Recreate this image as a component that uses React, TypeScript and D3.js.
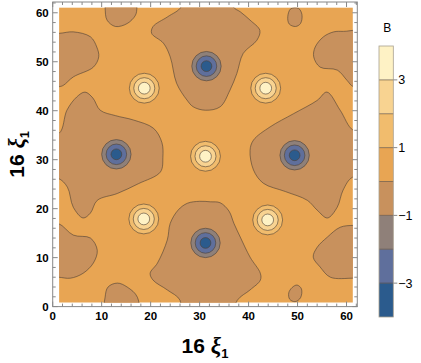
import React from "react";
import * as d3 from "d3";

const W = 421;
const H = 363;

// contour levels and the colour of each band between two levels
const levels = [-4, -3, -2, -1, 0, 1, 2, 3, 4];
const bandColors = ["#2b5b8d", "#5f6f9c", "#8f8079", "#c8915d", "#e8a553", "#f1bc6d", "#f8d391", "#fef2c5"];
const legendTicks = [3, 1, -1, -3];
const frameTicks = [0, 10, 20, 30, 40, 50, 60];

// peaks (B > 3) and wells (B < -3), in units of 16 xi_1
const maxima = [[18.7, 44.6], [43.5, 44.6], [31.2, 30.7], [18.6, 17.9], [43.9, 17.7]];
const minima = [[31.4, 49.1], [13.0, 31.1], [49.4, 30.9], [31.2, 13.0]];
const maxRings = [3.05, 2.15, 1.2]; // radius of the 1, 2, 3 contours
const minRings = [3.0, 2.1, 1.1]; // radius of the -1, -2, -3 contours

// outlines of the -1 < B < 0 regions (level 0 contour)
const regionLeft = [[-3, 35.4], [1.3, 35.4], [2.9, 40.1], [4.9, 42.8], [6.6, 43.8], [8.2, 42.6], [9.7, 40.1], [12.8, 39.0], [16.5, 38.1], [20.6, 36.4], [22.3, 33.5], [22.5, 30.5], [22.0, 27.5], [17.5, 25.1], [13.2, 23.1], [9.1, 21.7], [7.7, 19.1], [6.2, 18.1], [4.2, 20.3], [3.0, 24.4], [1.1, 26.2], [-3, 26.2]];
const regionTop = [[26.3, 65], [26.2, 61.2], [23.5, 59.2], [20.5, 57.2], [20.2, 55.8], [22.6, 53.8], [24.0, 51.0], [25.3, 45.6], [27.4, 42.2], [28.7, 40.8], [31.2, 40.1], [34.2, 40.8], [36.2, 44.2], [37.6, 47.6], [38.9, 51.7], [41.7, 54.4], [42.3, 56.4], [40.3, 58.5], [38.3, 60.2], [36.9, 61.2], [36.8, 65]];
const regionRight = [[65, 36.0], [61.4, 36.0], [58.7, 40.1], [56.0, 43.8], [54.0, 42.1], [49.2, 39.4], [44.4, 36.7], [41.0, 34.0], [40.3, 31.9], [41.0, 27.9], [43.0, 25.2], [47.5, 23.5], [52.0, 21.7], [54.0, 19.7], [56.1, 18.1], [58.1, 20.3], [59.3, 23.8], [61.2, 26.4], [65, 26.4]];
const regionBottom = [[26.0, -3], [26.0, 1.3], [23.4, 3.4], [20.5, 5.4], [19.9, 6.8], [21.4, 8.9], [23.4, 13.6], [24.0, 17.0], [25.6, 19.7], [27.5, 21.1], [30.0, 21.5], [32.2, 21.4], [34.2, 21.2], [36.0, 19.5], [37.0, 17.0], [38.3, 14.2], [40.3, 10.1], [42.4, 6.8], [42.4, 5.4], [40.3, 3.4], [37.7, 1.3], [36.3, -3]];
const edgeTopLeft = [[-3, 55.8], [1.3, 55.8], [4.2, 56.1], [7.7, 55.1], [9.0, 53.0], [9.4, 51.0], [8.3, 48.9], [4.2, 46.9], [2.2, 45.2], [1.3, 44.9], [-3, 44.9]];
const bumpTopLeft = [[10.7, 65], [10.7, 61.1], [11.1, 58.5], [12.8, 57.2], [15.2, 57.8], [16.9, 59.5], [17.2, 61.1], [17.2, 65]];
const ovalTopRight = [[48.6, 60.8], [50.2, 60.9], [50.9, 59.6], [50.6, 57.8], [49.6, 57.2], [48.3, 57.7], [48.0, 59.2]];
const edgeTopRight = [[65, 56.0], [59.4, 56.2], [57.4, 56.1], [55.3, 55.1], [53.6, 53.0], [53.3, 51.0], [54.6, 48.9], [58.1, 48.3], [60.1, 46.2], [61.4, 44.9], [65, 44.9]];
const edgeBottomLeft = [[-3, 17.0], [1.1, 17.0], [4.2, 14.6], [7.7, 14.0], [9.1, 11.5], [8.3, 8.9], [6.2, 6.8], [3.6, 5.8], [1.1, 6.0], [-3, 6.0]];
const bumpBottomLeft = [[10.7, -3], [10.7, 1.9], [11.3, 4.0], [13.2, 4.8], [15.2, 4.0], [17.3, 1.9], [17.3, -3]];
const ovalBottomRight = [[49.9, 4.4], [50.8, 3.6], [50.6, 1.8], [49.5, 1.0], [48.4, 1.5], [48.2, 2.8], [48.9, 3.9]];
const edgeBottomRight = [[65, 16.6], [61.5, 16.6], [58.7, 16.2], [56.1, 14.2], [54.0, 12.1], [53.2, 10.1], [54.6, 8.1], [56.7, 6.0], [61.5, 5.8], [65, 5.8]];

const regions = [regionLeft, regionTop, regionRight, regionBottom, edgeTopLeft, bumpTopLeft, ovalTopRight, edgeTopRight, edgeBottomLeft, bumpBottomLeft, ovalBottomRight, edgeBottomRight];

// sampled area of the plot
const dataX = [1.3, 61.3];
const dataY = [0.8, 61.1];

const font = "'Liberation Sans', Arial, sans-serif";
const greek = "'Liberation Serif', 'Times New Roman', serif";
const lineColor = "#4e4034";

function Title() {
  return (
    <>
      16 <tspan fontFamily={greek} fontStyle="italic" fontSize={23}>ξ</tspan>
      <tspan fontSize={13} dy={5}>1</tspan>
    </>
  );
}

export default function App() {
  const x = d3.scaleLinear().domain([0, 62.2]).range([52.7, 357.3]);
  const y = d3.scaleLinear().domain([0, 62.2]).range([306.6, 2]);
  const legendY = d3.scaleLinear().domain([-4, 4]).range([317, 46]);
  const legendX0 = 379;
  const legendX1 = 393.3;

  const outline = d3
    .line<number[]>()
    .x((d) => x(d[0]))
    .y((d) => y(d[1]))
    .curve(d3.curveCatmullRomClosed.alpha(0.5));

  const rx = (r: number) => x(r) - x(0);
  const ry = (r: number) => y(0) - y(r);

  const minor = d3.range(0, 62.5, 2).filter((v) => v % 10 !== 0);
  const [left, right] = x.range();
  const [bottom, top] = y.range();

  return (
    <svg width={W} height={H} style={{ position: "absolute", left: 0, top: 0 }} fontFamily={font}>
      <defs>
        <clipPath id="plotClip">
          <rect x={x(dataX[0])} y={y(dataY[1])} width={x(dataX[1]) - x(dataX[0])} height={y(dataY[0]) - y(dataY[1])} />
        </clipPath>
      </defs>
      <rect width={W} height={H} fill="#fff" />

      <g clipPath="url(#plotClip)">
        <rect x={x(dataX[0])} y={y(dataY[1])} width={x(dataX[1]) - x(dataX[0])} height={y(dataY[0]) - y(dataY[1])} fill={bandColors[4]} />
        {regions.map((pts, i) => (
          <path key={i} d={outline(pts) || ""} fill={bandColors[3]} stroke={lineColor} strokeOpacity={0.75} strokeWidth={0.8} />
        ))}
        {minima.map((c, i) =>
          minRings.map((r, j) => (
            <ellipse key={`mn${i}-${j}`} cx={x(c[0])} cy={y(c[1])} rx={rx(r)} ry={ry(r)} fill={bandColors[2 - j]} stroke={lineColor} strokeOpacity={0.75} strokeWidth={0.8} />
          ))
        )}
        {maxima.map((c, i) =>
          maxRings.map((r, j) => (
            <ellipse key={`mx${i}-${j}`} cx={x(c[0])} cy={y(c[1])} rx={rx(r)} ry={ry(r)} fill={bandColors[5 + j]} stroke={lineColor} strokeOpacity={0.75} strokeWidth={0.8} />
          ))
        )}
      </g>

      {/* frame */}
      <rect x={left} y={top} width={right - left} height={bottom - top} fill="none" stroke="#888" strokeWidth={1} />
      <g stroke="#888" strokeWidth={1}>
        {frameTicks.map((t) => (
          <g key={`M${t}`}>
            <line x1={x(t)} x2={x(t)} y1={bottom} y2={bottom - 5} />
            <line x1={x(t)} x2={x(t)} y1={top} y2={top + 5} />
            <line y1={y(t)} y2={y(t)} x1={left} x2={left + 5} />
            <line y1={y(t)} y2={y(t)} x1={right} x2={right - 5} />
          </g>
        ))}
        {minor.map((t) => (
          <g key={`m${t}`}>
            <line x1={x(t)} x2={x(t)} y1={bottom} y2={bottom - 3} />
            <line x1={x(t)} x2={x(t)} y1={top} y2={top + 3} />
            <line y1={y(t)} y2={y(t)} x1={left} x2={left + 3} />
            <line y1={y(t)} y2={y(t)} x1={right} x2={right - 3} />
          </g>
        ))}
      </g>
      <g fontSize={11.5} fontWeight="bold" fill="#000">
        {frameTicks.map((t) => (
          <text key={`xl${t}`} x={x(t)} y={bottom + 13.5} textAnchor="middle">{t}</text>
        ))}
        {frameTicks.map((t) => (
          <text key={`yl${t}`} x={left - 4} y={y(t) + 4} textAnchor="end">{t}</text>
        ))}
      </g>

      {/* axis titles */}
      <text x={(left + right) / 2} y={353} textAnchor="middle" fontSize={21} fontWeight="bold">
        <Title />
      </text>
      <text transform={`translate(24,${(top + bottom) / 2}) rotate(-90)`} textAnchor="middle" fontSize={21} fontWeight="bold">
        <Title />
      </text>

      {/* legend */}
      <text x={(legendX0 + legendX1) / 2 + 1} y={31.5} textAnchor="middle" fontSize={12}>B</text>
      {bandColors.map((c, i) => (
        <rect key={`lb${i}`} x={legendX0} y={legendY(levels[i + 1])} width={legendX1 - legendX0} height={legendY(levels[i]) - legendY(levels[i + 1])} fill={c} />
      ))}
      {levels.slice(1, -1).map((v) => (
        <line key={`ls${v}`} x1={legendX0} x2={legendX1} y1={legendY(v)} y2={legendY(v)} stroke={lineColor} strokeOpacity={0.6} strokeWidth={1} />
      ))}
      <rect x={legendX0} y={legendY(4)} width={legendX1 - legendX0} height={legendY(-4) - legendY(4)} fill="none" stroke="#a8a090" strokeWidth={0.8} />
      {legendTicks.map((v) => (
        <g key={`lt${v}`}>
          <line x1={legendX1} x2={legendX1 + 4} y1={legendY(v)} y2={legendY(v)} stroke="#888" />
          <text x={legendX1 + 5} y={legendY(v) + 4.5} fontSize={12.5}>{v < 0 ? `−${-v}` : v}</text>
        </g>
      ))}
    </svg>
  );
}
